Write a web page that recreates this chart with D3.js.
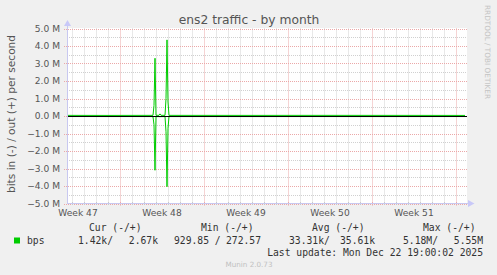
<!DOCTYPE html>
<html lang="en">
<head>
  <meta charset="UTF-8" />
  <title>ens2 traffic - by month</title>
  <script src="https://d3js.org/d3.v7.min.js"></script>
  <style>
    body {
      margin: 0;
      background-color: #f0f0f0;
    }
    svg {
      display: block;
      font-family: 'DejaVu Sans', sans-serif;
    }
    .mono {
      font-family: 'DejaVu Sans Mono', monospace;
      font-size: 9.7px;
      fill: #333;
      white-space: pre;
    }
  </style>
</head>
<body>
  <script>
    // data (bits per second, 2h samples)
    const times = [
      '2025-11-19 14:00', '2025-11-21 00:00', '2025-11-23 00:00', '2025-11-25 00:00',
      '2025-11-26 16:00', '2025-11-26 18:00', '2025-11-26 20:00', '2025-11-26 22:00',
      '2025-11-27 00:00', '2025-11-27 06:00', '2025-11-27 08:00', '2025-11-27 10:00',
      '2025-11-27 18:00', '2025-11-27 20:00', '2025-11-27 22:00', '2025-11-28 00:00',
      '2025-11-28 02:00', '2025-12-01 00:00', '2025-12-05 00:00', '2025-12-10 00:00',
      '2025-12-15 00:00', '2025-12-20 00:00', '2025-12-22 18:00'
    ];
    const outBps = [
      36e3, 34e3, 33e3, 35e3,
      36e3, 40e3, 0.6e6, 3.3e6,
      40e3, 40e3, 0.12e6, 40e3,
      38e3, 1.0e6, 4.35e6, 0.8e6,
      36e3, 35e3, 34e3, 36e3,
      35e3, 34e3, 33e3
    ];
    const inBps = [
      31e3, 30e3, 32e3, 31e3,
      33e3, 45e3, 0.5e6, 3.1e6,
      35e3, 34e3, 40e3, 35e3,
      34e3, 0.9e6, 4.04e6, 0.7e6,
      33e3, 32e3, 33e3, 31e3,
      33e3, 32e3, 31e3
    ];
    const yTicks = [-5e6, -4e6, -3e6, -2e6, -1e6, 0, 1e6, 2e6, 3e6, 4e6, 5e6];
    const weekLabels = ['Week 47', 'Week 48', 'Week 49', 'Week 50', 'Week 51'];
    const weekStarts = ['2025-11-17', '2025-11-24', '2025-12-01', '2025-12-08', '2025-12-15'];
    const legendHead = ['Cur (-/+)', 'Min (-/+)', 'Avg (-/+)', 'Max (-/+)'];
    const legendIn = ['1.42k/', '929.85 /', '33.31k/', '5.18M/'];
    const legendOut = ['2.67k', '272.57', '35.61k', '5.55M'];

    const w = 497;
    const h = 275;
    const plotL = 67, plotR = 467, plotT = 28.5, plotB = 203.5;

    const parse = d3.timeParse('%Y-%m-%d %H:%M');
    const parseDay = d3.timeParse('%Y-%m-%d');
    const dates = times.map(t => parse(t));

    const svg = d3.select('body')
      .append('svg')
      .attr('width', w)
      .attr('height', h);

    svg.append('rect')
      .attr('width', w)
      .attr('height', h)
      .attr('fill', '#f0f0f0');

    const x = d3.scaleTime()
      .domain([parse('2025-11-19 14:00'), parse('2025-12-22 22:00')])
      .range([plotL, plotR]);

    const y = d3.scaleLinear()
      .domain([-5e6, 5e6])
      .range([plotB, plotT]);

    const px = v => Math.round(v) + 0.5;
    const gridMinor = '#d0d0d0';
    const gridMajor = '#eba8a8';

    // plot background
    svg.append('rect')
      .attr('x', plotL)
      .attr('y', plotT - 0.5)
      .attr('width', plotR - plotL)
      .attr('height', plotB - plotT)
      .attr('fill', 'white');

    // minor grid
    const days = d3.timeDay.range(x.domain()[0], x.domain()[1]);
    const halfSteps = d3.range(-5e6, 5e6 + 1, 5e5).filter(v => v % 1e6 !== 0);
    const grid = svg.append('g');
    grid.selectAll('.vmin')
      .data(days.filter(d => d.getDay() !== 1))
      .enter()
      .append('line')
      .attr('x1', d => px(x(d))).attr('x2', d => px(x(d)))
      .attr('y1', plotT).attr('y2', plotB)
      .attr('stroke', gridMinor)
      .attr('stroke-dasharray', '1,1');
    grid.selectAll('.hmin')
      .data(halfSteps)
      .enter()
      .append('line')
      .attr('x1', plotL).attr('x2', plotR)
      .attr('y1', d => px(y(d))).attr('y2', d => px(y(d)))
      .attr('stroke', gridMinor)
      .attr('stroke-dasharray', '1,1');

    // major grid
    grid.selectAll('.vmaj')
      .data(days.filter(d => d.getDay() === 1))
      .enter()
      .append('line')
      .attr('x1', d => px(x(d))).attr('x2', d => px(x(d)))
      .attr('y1', plotT).attr('y2', plotB + 2)
      .attr('stroke', gridMajor)
      .attr('stroke-dasharray', '1,1');
    grid.selectAll('.hmaj')
      .data(yTicks)
      .enter()
      .append('line')
      .attr('x1', plotL - 3).attr('x2', plotR)
      .attr('y1', d => px(y(d))).attr('y2', d => px(y(d)))
      .attr('stroke', gridMajor)
      .attr('stroke-dasharray', '1,1');

    // day ticks on the x axis
    grid.selectAll('.xt')
      .data(days)
      .enter()
      .append('line')
      .attr('x1', d => px(x(d))).attr('x2', d => px(x(d)))
      .attr('y1', plotB - 1.5).attr('y2', plotB + 1.5)
      .attr('stroke', d => d.getDay() === 1 ? gridMajor : '#c8c8c8');

    // series
    const lineOut = d3.line()
      .x((d, i) => x(dates[i]))
      .y(d => y(d));
    const lineIn = d3.line()
      .x((d, i) => x(dates[i]))
      .y(d => y(-d));

    svg.append('path')
      .datum(inBps)
      .attr('d', lineIn)
      .attr('fill', 'none')
      .attr('stroke', '#00cc00')
      .attr('stroke-width', 1);
    svg.append('path')
      .datum(outBps)
      .attr('d', lineOut)
      .attr('fill', 'none')
      .attr('stroke', '#00cc00')
      .attr('stroke-width', 1);

    // zero rule
    svg.append('line')
      .attr('x1', plotL).attr('x2', plotR)
      .attr('y1', px(y(0))).attr('y2', px(y(0)))
      .attr('stroke', '#000')
      .attr('stroke-width', 1);

    // axes with arrows
    svg.append('line')
      .attr('x1', plotL + 0.5).attr('x2', plotL + 0.5)
      .attr('y1', plotB).attr('y2', 22)
      .attr('stroke', '#c8c8f0');
    svg.append('path')
      .attr('d', `M${plotL - 3},26 L${plotL + 4},26 L${plotL + 0.5},20 Z`)
      .attr('fill', '#c8c8f8');
    svg.append('line')
      .attr('x1', plotL).attr('x2', 470)
      .attr('y1', plotB).attr('y2', plotB)
      .attr('stroke', '#c8c8f0');
    svg.append('path')
      .attr('d', `M468,${plotB - 3.5} L468,${plotB + 3.5} L474.5,${plotB} Z`)
      .attr('fill', '#c8c8f8');

    // y tick labels
    svg.selectAll('.ylab')
      .data(yTicks)
      .enter()
      .append('text')
      .attr('x', 60)
      .attr('y', d => y(d) + 3.3)
      .attr('text-anchor', 'end')
      .attr('font-size', '9.1px')
      .attr('fill', '#555')
      .text(d => d3.format('.1f')(d / 1e6) + ' M');

    // week labels
    svg.selectAll('.xlab')
      .data(weekLabels)
      .enter()
      .append('text')
      .attr('x', (d, i) => x(d3.timeHour.offset(parseDay(weekStarts[i]), 84)))
      .attr('y', 216)
      .attr('text-anchor', 'middle')
      .attr('font-size', '9.1px')
      .attr('fill', '#555')
      .text(d => d);

    // title
    svg.append('text')
      .attr('x', 249)
      .attr('y', 24)
      .attr('text-anchor', 'middle')
      .attr('font-size', '12.3px')
      .attr('fill', '#555')
      .text('ens2 traffic - by month');

    svg.append('text')
      .attr('transform', 'translate(14.5,114) rotate(-90)')
      .attr('text-anchor', 'middle')
      .attr('font-size', '10.6px')
      .attr('fill', '#555')
      .text('bits in (-) / out (+) per second');

    svg.append('text')
      .attr('transform', 'translate(485,5) rotate(90)')
      .attr('font-size', '7.3px')
      .attr('fill', '#c4c4c4')
      .text('RRDTOOL / TOBI OETIKER');

    // legend
    const headX = [89, 201, 312, 423];
    const inX = [78, 174, 289, 403];
    const outX = [158, 261, 375, 483];
    svg.selectAll('.lh')
      .data(legendHead)
      .enter()
      .append('text')
      .attr('class', 'mono')
      .attr('x', (d, i) => headX[i])
      .attr('y', 231)
      .text(d => d);
    svg.append('rect')
      .attr('x', 14).attr('y', 237.5)
      .attr('width', 6).attr('height', 6)
      .attr('fill', '#00cc00');
    svg.append('text')
      .attr('class', 'mono')
      .attr('x', 27).attr('y', 244)
      .text('bps');
    svg.selectAll('.li')
      .data(legendIn)
      .enter()
      .append('text')
      .attr('class', 'mono')
      .attr('x', (d, i) => inX[i])
      .attr('y', 244)
      .text(d => d);
    svg.selectAll('.lo')
      .data(legendOut)
      .enter()
      .append('text')
      .attr('class', 'mono')
      .attr('x', (d, i) => outX[i])
      .attr('y', 244)
      .attr('text-anchor', 'end')
      .text(d => d);
    svg.append('text')
      .attr('class', 'mono')
      .attr('x', 483).attr('y', 256)
      .attr('text-anchor', 'end')
      .text('Last update: Mon Dec 22 19:00:02 2025');

    svg.append('text')
      .attr('x', 249).attr('y', 267)
      .attr('text-anchor', 'middle')
      .attr('font-size', '7.2px')
      .attr('fill', '#c0c0c0')
      .text('Munin 2.0.73');
  </script>
</body>
</html>
